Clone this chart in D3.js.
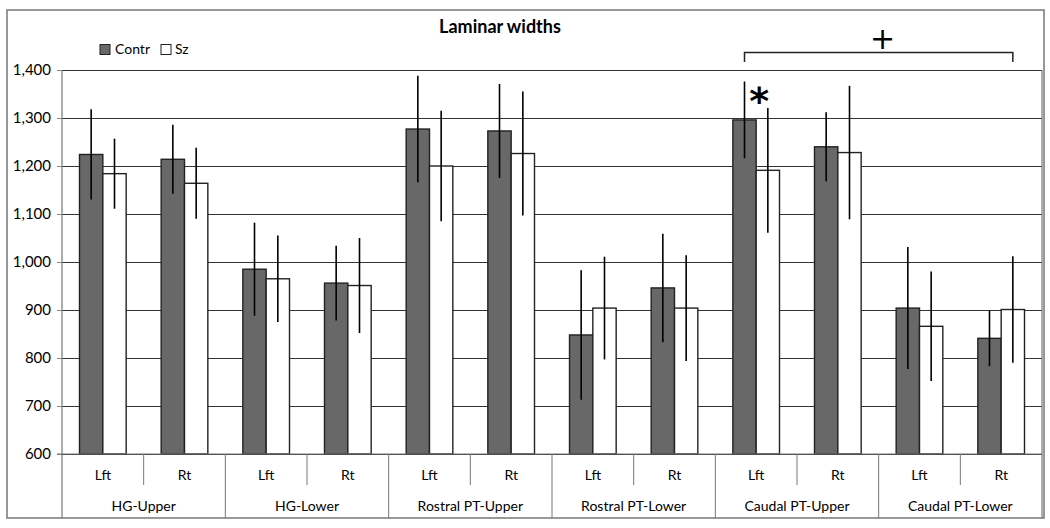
<!DOCTYPE html>
<html><head><meta charset="utf-8">
<script src="https://cdn.jsdelivr.net/npm/d3@7"></script>
<style>body{margin:0;background:#fff}svg{display:block}text{font-family:Lato,"Open Sans",sans-serif;fill:#000}</style>
</head><body><svg id="c" width="1050" height="528"></svg>
<script>
const groups = ["HG-Upper","HG-Lower","Rostral PT-Upper","Rostral PT-Lower","Caudal PT-Upper","Caudal PT-Lower"];
const sides = ["Lft","Rt"];
const series = ["Contr","Sz"];
const contrMean = [1224,1214,985,956,1277,1273,848,946,1296,1240,904,841];
const contrErr  = [94,72,97,78,111,98,135,113,80,72,127,58];
const szMean    = [1184,1164,965,951,1200,1226,904,904,1191,1228,866,901];
const szErr     = [73,74,90,99,115,129,107,110,130,139,114,111];
const yTicks = [600,700,800,900,1000,1100,1200,1300,1400];

const svg = d3.select("#c");
const L=62, R=1042, T=70, B=454;
const cats = [];
groups.forEach(g=>sides.forEach(s=>cats.push(g+"|"+s)));
const x0 = d3.scaleBand().domain(cats).range([L,R]);
const xg = d3.scaleBand().domain(groups).range([L,R]);
const x1 = d3.scaleBand().domain(series).range([0,x0.bandwidth()]).paddingOuter(0.75).paddingInner(0);
const y = d3.scaleLinear().domain([600,1400]).range([B,T]);

// outer border
svg.append("rect").attr("x",7).attr("y",10).attr("width",1037).attr("height",508).attr("fill","none").attr("stroke","#777").attr("stroke-width",1.5);

// gridlines
svg.append("g").selectAll("line").data(yTicks).join("line")
  .attr("x1",L).attr("x2",R).attr("y1",d=>Math.round(y(d))+0.5).attr("y2",d=>Math.round(y(d))+0.5)
  .attr("stroke","#333").attr("stroke-width",1);

// y axis
const yAxis = d3.axisLeft(y).tickValues(yTicks).tickSize(5).tickPadding(6).tickFormat(d3.format(","));
const ya = svg.append("g").attr("transform",`translate(${L},0)`).call(yAxis);
ya.select(".domain").remove();
ya.selectAll(".tick line").attr("stroke","#888");
ya.selectAll(".tick text").style("font-size","15px").style("font-family","Lato");
svg.append("line").attr("x1",L).attr("x2",L).attr("y1",T).attr("y2",518).attr("stroke","#777").attr("stroke-width",1.2);
svg.append("line").attr("x1",R).attr("x2",R).attr("y1",T).attr("y2",518).attr("stroke","#777").attr("stroke-width",1.2);

// bars
const data = cats.map((c,i)=>({c, vals:[{s:"Contr",m:contrMean[i],e:contrErr[i]},{s:"Sz",m:szMean[i],e:szErr[i]}]}));
const gb = svg.append("g").selectAll("g").data(data).join("g").attr("transform",d=>`translate(${x0(d.c)},0)`);
gb.selectAll("rect").data(d=>d.vals).join("rect")
  .attr("x",d=>x1(d.s)).attr("width",x1.bandwidth()).attr("y",d=>y(d.m)).attr("height",d=>y(600)-y(d.m))
  .attr("fill",d=>d.s==="Contr"?"#686868":"#fff").attr("stroke","#222").attr("stroke-width",1.4);
gb.selectAll("line").data(d=>d.vals).join("line")
  .attr("x1",d=>x1(d.s)+x1.bandwidth()/2).attr("x2",d=>x1(d.s)+x1.bandwidth()/2)
  .attr("y1",d=>y(d.m+d.e)).attr("y2",d=>y(d.m-d.e)).attr("stroke","#000").attr("stroke-width",1.6);

// x axis line
svg.append("line").attr("x1",57).attr("x2",R).attr("y1",B).attr("y2",B).attr("stroke","#777").attr("stroke-width",1.2);
// sub separators
svg.append("g").selectAll("line").data(groups).join("line")
  .attr("x1",d=>xg(d)+xg.bandwidth()/2).attr("x2",d=>xg(d)+xg.bandwidth()/2).attr("y1",B).attr("y2",485).attr("stroke","#777");
svg.append("g").selectAll("line").data(groups.slice(1)).join("line")
  .attr("x1",d=>xg(d)).attr("x2",d=>xg(d)).attr("y1",B).attr("y2",518).attr("stroke","#777");
svg.append("g").selectAll("text").data(cats).join("text")
  .attr("x",d=>x0(d)+x0.bandwidth()/2).attr("y",480).attr("text-anchor","middle").style("font-size","14px")
  .text(d=>d.split("|")[1]);
svg.append("g").selectAll("text").data(groups).join("text")
  .attr("x",d=>xg(d)+xg.bandwidth()/2).attr("y",511).attr("text-anchor","middle").style("font-size","14px")
  .text(d=>d);

// title
svg.append("text").attr("x",500).attr("y",33).attr("text-anchor","middle").style("font-size","18px").style("font-weight","bold").text("Laminar widths");

// legend
const lg = svg.append("g");
[["Contr",100,115,"#686868"],["Sz",161,175,"#fff"]].forEach(([t,sx,tx,f])=>{
  lg.append("rect").attr("x",sx).attr("y",44.5).attr("width",10).attr("height",10).attr("fill",f).attr("stroke","#222");
  lg.append("text").attr("x",tx).attr("y",54).style("font-size","14px").text(t);
});

// annotations
const bx1 = x0("Caudal PT-Upper|Lft")+x1("Contr")+x1.bandwidth()/2;
const bx2 = x0("Caudal PT-Lower|Rt")+x1("Sz")+x1.bandwidth()/2;
svg.append("path").attr("d",`M${bx1},62V52.5H${bx2}V62`).attr("fill","none").attr("stroke","#222").attr("stroke-width",1.5);
svg.append("text").attr("x",(bx1+bx2)/2+4).attr("y",49).attr("text-anchor","middle").style("font-size","30px").style("font-family","DejaVu Sans").text("+");
const ax = x0("Caudal PT-Upper|Lft")+x1("Sz")+3;
svg.append("text").attr("x",ax).attr("y",114).attr("text-anchor","middle").style("font-size","38px").style("font-weight","bold").style("font-family","DejaVu Sans").text("*");
</script></body></html>
